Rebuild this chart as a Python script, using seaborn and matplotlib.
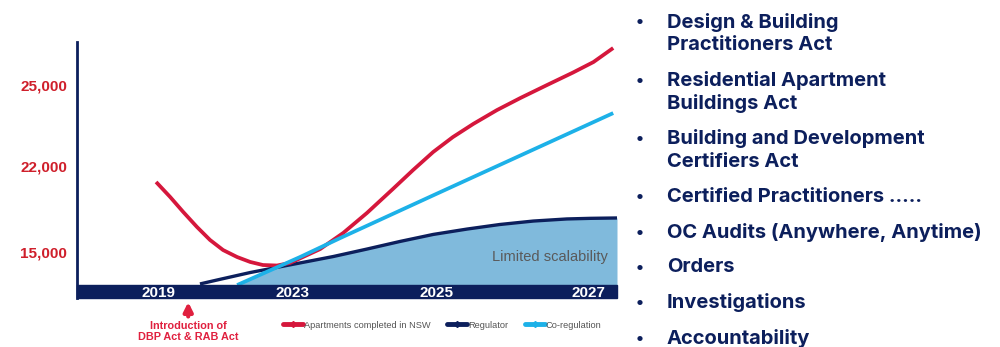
import numpy as np
import pandas as pd
import matplotlib
matplotlib.use("Agg")
import matplotlib.pyplot as plt
import seaborn as sns
from matplotlib.lines import Line2D
from matplotlib.patches import Rectangle

sns.set_theme(style="white")
plt.rcParams["font.family"] = ["Liberation Sans", "DejaVu Sans"]

# schematic values (year, apartments)
apt_years = [2018.94, 2019.36, 2019.75, 2020.16, 2020.55, 2020.94, 2021.36, 2021.75, 2022.13,
             2022.55, 2022.94, 2023.15, 2023.39, 2023.71, 2024.04, 2024.40, 2024.68, 2024.96,
             2025.22, 2025.49, 2025.80, 2026.11, 2026.46, 2026.80, 2027.07, 2027.33]
apt_vals = [20700, 19480, 18260, 17040, 15980, 15160, 14590, 14190, 13940,
            13900, 14110, 14590, 15240, 16550, 18180, 20130, 21670, 22520,
            23070, 23560, 24070, 24520, 25000, 25460, 25850, 26370]

reg_years = [2020.25, 2020.76, 2021.75, 2023.11, 2023.57, 2024.04, 2024.50, 2024.96,
             2025.41, 2025.84, 2026.28, 2026.72, 2027.03, 2027.38]
reg_vals = [12400, 12720, 13330, 14110, 14630, 15240, 15860, 16430,
            16870, 17240, 17520, 17690, 17740, 17770]

coreg_years = [2021.36, 2023.11, 2023.67, 2025.0, 2027.33]
coreg_vals = [12310, 14590, 16140, 19720, 23960]

series_names = ["Apartments completed in NSW", "Regulator", "Co-regulation"]
year_ticks = [2019, 2023, 2025, 2027]
value_ticks = [15000, 22000, 25000]
value_labels = ["15,000", "22,000", "25,000"]

bullets = [
    "Design & Building\nPractitioners Act",
    "Residential Apartment\nBuildings Act",
    "Building and Development\nCertifiers Act",
    "Certified Practitioners .....",
    "OC Audits (Anywhere, Anytime)",
    "Orders",
    "Investigations",
    "Accountability",
]

RED = "#d5173c"
NAVY = "#0c1f5c"
CYAN = "#1db1e8"
FILL = "#80badc"
LABEL_RED = "#cf1f2b"

# the slide uses an uneven schematic axis, so map it piecewise
yk = [0, 15000, 22000, 25000, 40000]
yh = [-138.3, 46, 132, 213, 618]
xk = [2000, 2019, 2023, 2025, 2027, 2040]
xh = [-478.5, 158, 292, 436, 588, 1576]


def yfwd(v):
    return np.interp(v, yk, yh)


def yinv(h):
    return np.interp(h, yh, yk)


def xfwd(v):
    return np.interp(v, xk, xh)


def xinv(h):
    return np.interp(h, xh, xk)


df = pd.concat([
    pd.DataFrame({"year": apt_years, "value": apt_vals, "series": series_names[0]}),
    pd.DataFrame({"year": reg_years, "value": reg_vals, "series": series_names[1]}),
    pd.DataFrame({"year": coreg_years, "value": coreg_vals, "series": series_names[2]}),
])

fig = plt.figure(figsize=(10, 3.47), dpi=100)
ax = fig.add_axes([0.077, 0.1412, 0.54, 0.7378])
ax.set_xscale("function", functions=(xfwd, xinv))
ax.set_yscale("function", functions=(yfwd, yinv))
ax.set_xlim(2016.58, 2027.38)
ax.set_ylim(11256, 26593)

# shaded area under regulator (and co-regulation where it is lower)
grid = np.linspace(coreg_years[0], reg_years[-1], 400)
top = np.minimum(np.interp(grid, reg_years, reg_vals),
                 np.interp(grid, coreg_years, coreg_vals, right=np.inf))
ax.fill_between(grid, 11256, top, color=FILL, lw=0, zorder=1)

colors = {series_names[0]: RED, series_names[1]: NAVY, series_names[2]: CYAN}
z = {series_names[0]: 2.2, series_names[1]: 2.0, series_names[2]: 2.3}
for name in [series_names[1], series_names[0], series_names[2]]:
    d = df[df.series == name]
    sns.lineplot(data=d, x="year", y="value", color=colors[name], sort=False,
                 estimator=None, linewidth=2.7 if name != series_names[1] else 2.4,
                 ax=ax, zorder=z[name], legend=False)
for ln in ax.lines:
    ln.set_solid_joinstyle("round")
    ln.set_solid_capstyle("butt")

# navy time band along the bottom
ax.add_patch(Rectangle((0, 0), 1, 13 / 256, transform=ax.transAxes,
                       color=NAVY, zorder=3, clip_on=False))

ax.text(2027.26, 14590, "Limited scalability", color="#5a5a5a", fontsize=10.5,
        ha="right", va="center", zorder=4)

for s in ["top", "right", "bottom"]:
    ax.spines[s].set_visible(False)
ax.spines["left"].set_color(NAVY)
ax.spines["left"].set_linewidth(2)

ax.set_xticks(year_ticks)
ax.set_xticklabels([str(y) for y in year_ticks])
ax.set_yticks(value_ticks)
ax.set_yticklabels(value_labels)
ax.tick_params(axis="x", length=0, pad=-8.4, labelcolor="white", labelsize=11)
ax.tick_params(axis="y", length=0, pad=7, labelcolor=LABEL_RED, labelsize=11)
for t in ax.get_xticklabels() + ax.get_yticklabels():
    t.set_fontweight("bold")
ax.xaxis.set_zorder(5)
ax.set_xlabel("")
ax.set_ylabel("")

# annotation for the legislation
ax.annotate("", xy=(2019.9, -0.005), xycoords=("data", "axes fraction"),
            xytext=(2019.9, -0.083), textcoords=("data", "axes fraction"),
            arrowprops=dict(arrowstyle="-|>", color="#e0203f", lw=3, mutation_scale=13))
ax.text(2019.9, -0.09, "Introduction of\nDBP Act & RAB Act", transform=ax.get_xaxis_transform(),
        ha="center", va="top", color="#e0203f", fontsize=7.8, fontweight="bold", linespacing=1.15)

handles = [Line2D([], [], color=colors[n], lw=3.5, marker="D", markersize=3) for n in series_names]
leg = fig.legend(handles, series_names, loc="center", bbox_to_anchor=(0.442, 0.063), ncol=3,
                 frameon=False, fontsize=6.7, handlelength=2.2, handletextpad=0.05,
                 columnspacing=1.8, labelcolor="#555555")

# bullet list on the right
cursor = 22
for item in bullets:
    lines = item.split("\n")
    fig.text(0.640, 1 - cursor / 347, "\u2022", color=NAVY, fontsize=12, fontweight="bold",
             ha="center", va="center", family=["Inter", "DejaVu Sans"])
    for i, ln in enumerate(lines):
        fig.text(0.667, 1 - (cursor + i * 23) / 347, ln, color=NAVY, fontsize=14.5,
                 fontweight="bold", ha="left", va="center", family=["Inter", "DejaVu Sans"])
    cursor += len(lines) * 23 + 12.3

fig.savefig("out.png", dpi=100)
